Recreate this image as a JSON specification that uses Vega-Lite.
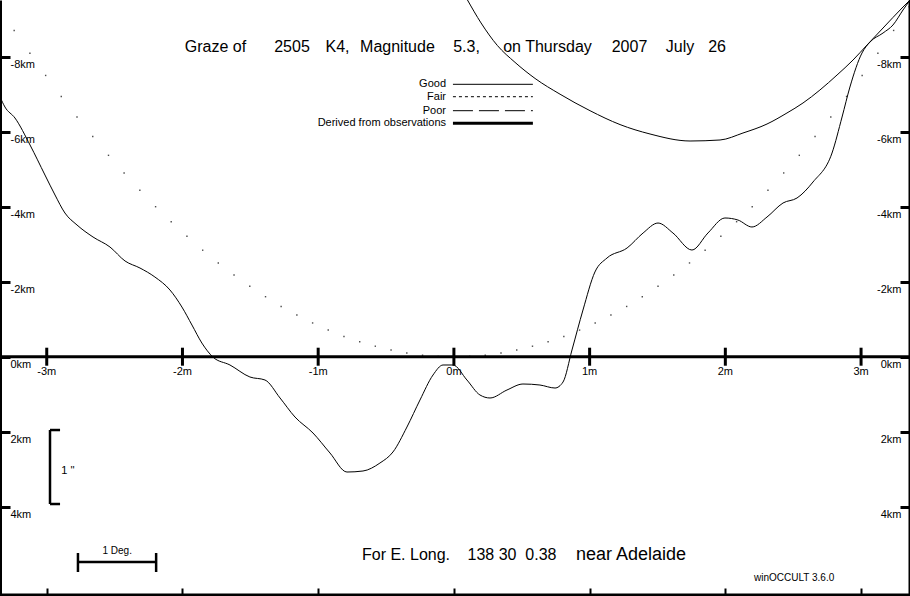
{
  "$schema": "https://vega.github.io/schema/vega-lite/v6.json",
  "width": 910,
  "height": 596,
  "autosize": {"type": "none"},
  "padding": 0,
  "background": "white",
  "config": {
    "view": {"stroke": null},
    "text": {"font": "Liberation Sans", "color": "black"},
    "axis": {"labelFont": "Liberation Sans", "grid": false, "title": null}
  },
  "datasets": {
    "profile": [
      {"m": -3.344, "km": -6.925}, {"m": -3.308, "km": -6.659}, {"m": -3.234, "km": -6.365},
      {"m": -3.123, "km": -5.645}, {"m": -3.013, "km": -4.845}, {"m": -2.939, "km": -4.312},
      {"m": -2.866, "km": -3.832}, {"m": -2.777, "km": -3.512}, {"m": -2.659, "km": -3.192},
      {"m": -2.534, "km": -2.925}, {"m": -2.423, "km": -2.552}, {"m": -2.313, "km": -2.365},
      {"m": -2.203, "km": -2.125}, {"m": -2.092, "km": -1.779}, {"m": -2.004, "km": -1.325},
      {"m": -1.930, "km": -0.845}, {"m": -1.857, "km": -0.365}, {"m": -1.776, "km": 0.008},
      {"m": -1.650, "km": 0.221}, {"m": -1.503, "km": 0.541}, {"m": -1.392, "km": 0.621},
      {"m": -1.281, "km": 1.101}, {"m": -1.171, "km": 1.608}, {"m": -1.038, "km": 2.035},
      {"m": -0.913, "km": 2.568}, {"m": -0.788, "km": 3.075}, {"m": -0.670, "km": 3.048},
      {"m": -0.545, "km": 2.835}, {"m": -0.449, "km": 2.541}, {"m": -0.346, "km": 1.875},
      {"m": -0.250, "km": 1.155}, {"m": -0.154, "km": 0.488}, {"m": -0.080, "km": 0.221},
      {"m": -0.007, "km": 0.221}, {"m": 0.096, "km": 0.621}, {"m": 0.192, "km": 1.021},
      {"m": 0.266, "km": 1.101}, {"m": 0.391, "km": 0.888}, {"m": 0.509, "km": 0.728},
      {"m": 0.634, "km": 0.755}, {"m": 0.745, "km": 0.835}, {"m": 0.804, "km": 0.675},
      {"m": 0.870, "km": -0.179}, {"m": 0.951, "km": -1.245}, {"m": 1.039, "km": -2.259},
      {"m": 1.128, "km": -2.632}, {"m": 1.276, "km": -2.899}, {"m": 1.394, "km": -3.299},
      {"m": 1.504, "km": -3.565}, {"m": 1.614, "km": -3.299}, {"m": 1.754, "km": -2.845},
      {"m": 1.872, "km": -3.299}, {"m": 1.997, "km": -3.699}, {"m": 2.093, "km": -3.645},
      {"m": 2.196, "km": -3.459}, {"m": 2.307, "km": -3.725}, {"m": 2.425, "km": -4.099},
      {"m": 2.528, "km": -4.232}, {"m": 2.646, "km": -4.659}, {"m": 2.786, "km": -5.432},
      {"m": 2.860, "km": -6.392}, {"m": 2.918, "km": -7.192}, {"m": 3.007, "km": -8.099},
      {"m": 3.066, "km": -8.392}, {"m": 3.162, "km": -8.632}, {"m": 3.235, "km": -8.845},
      {"m": 3.309, "km": -9.245}, {"m": 3.361, "km": -9.512}
    ],
    "upper": [
      {"m": 0.100, "km": -9.512}, {"m": 0.200, "km": -8.900}, {"m": 0.320, "km": -8.300},
      {"m": 0.450, "km": -7.850}, {"m": 0.598, "km": -7.420}, {"m": 0.782, "km": -7.000},
      {"m": 1.003, "km": -6.560}, {"m": 1.224, "km": -6.190}, {"m": 1.445, "km": -5.939},
      {"m": 1.740, "km": -5.752}, {"m": 1.961, "km": -5.779}, {"m": 2.130, "km": -5.965},
      {"m": 2.307, "km": -6.205}, {"m": 2.454, "km": -6.499}, {"m": 2.572, "km": -6.765},
      {"m": 2.697, "km": -7.112}, {"m": 2.823, "km": -7.512}, {"m": 2.941, "km": -7.912},
      {"m": 3.044, "km": -8.312}, {"m": 3.162, "km": -8.765}, {"m": 3.309, "km": -9.325},
      {"m": 3.361, "km": -9.512}
    ],
    "dots": [
      {"m": -3.240, "km": -8.70}, {"m": -3.124, "km": -8.09}, {"m": -3.008, "km": -7.50},
      {"m": -2.893, "km": -6.94}, {"m": -2.777, "km": -6.39}, {"m": -2.661, "km": -5.87},
      {"m": -2.545, "km": -5.37}, {"m": -2.430, "km": -4.90}, {"m": -2.314, "km": -4.44},
      {"m": -2.198, "km": -4.00}, {"m": -2.083, "km": -3.60}, {"m": -1.967, "km": -3.21},
      {"m": -1.851, "km": -2.84}, {"m": -1.736, "km": -2.50}, {"m": -1.620, "km": -2.18},
      {"m": -1.504, "km": -1.88}, {"m": -1.388, "km": -1.60}, {"m": -1.273, "km": -1.34},
      {"m": -1.157, "km": -1.11}, {"m": -1.041, "km": -0.90}, {"m": -0.926, "km": -0.71},
      {"m": -0.810, "km": -0.54}, {"m": -0.694, "km": -0.40}, {"m": -0.579, "km": -0.28},
      {"m": -0.463, "km": -0.18}, {"m": -0.347, "km": -0.10}, {"m": -0.231, "km": -0.04},
      {"m": -0.116, "km": -0.01}, {"m": 0.0, "km": 0.0},
      {"m": 0.116, "km": -0.01}, {"m": 0.231, "km": -0.04}, {"m": 0.347, "km": -0.10},
      {"m": 0.463, "km": -0.18}, {"m": 0.579, "km": -0.28}, {"m": 0.694, "km": -0.40},
      {"m": 0.810, "km": -0.54}, {"m": 0.926, "km": -0.71}, {"m": 1.041, "km": -0.90},
      {"m": 1.157, "km": -1.11}, {"m": 1.273, "km": -1.34}, {"m": 1.388, "km": -1.60},
      {"m": 1.504, "km": -1.88}, {"m": 1.620, "km": -2.18}, {"m": 1.736, "km": -2.50},
      {"m": 1.851, "km": -2.84}, {"m": 1.967, "km": -3.21}, {"m": 2.083, "km": -3.60},
      {"m": 2.198, "km": -4.00}, {"m": 2.314, "km": -4.44}, {"m": 2.430, "km": -4.90},
      {"m": 2.545, "km": -5.37}, {"m": 2.661, "km": -5.87}, {"m": 2.777, "km": -6.39},
      {"m": 2.893, "km": -6.94}, {"m": 3.008, "km": -7.50}, {"m": 3.124, "km": -8.09},
      {"m": 3.240, "km": -8.70}, {"m": 3.355, "km": -9.33}
    ],
    "minutes": [
      {"m": -3, "lab": "-3m"}, {"m": -2, "lab": "-2m"}, {"m": -1, "lab": "-1m"},
      {"m": 0, "lab": "0m"}, {"m": 1, "lab": "1m"}, {"m": 2, "lab": "2m"}, {"m": 3, "lab": "3m"}
    ],
    "title": [
      {"m": -1.757, "t": "Graze of"}, {"m": -1.193, "t": "2505"}, {"m": -0.858, "t": "K4,"},
      {"m": -0.416, "t": "Magnitude"}, {"m": 0.093, "t": "5.3,"}, {"m": 0.690, "t": "on Thursday"},
      {"m": 1.294, "t": "2007"}, {"m": 1.666, "t": "July"}, {"m": 1.939, "t": "26"}
    ],
    "legendtext": [
      {"km": -7.264, "t": "Good"}, {"km": -6.933, "t": "Fair"},
      {"km": -6.56, "t": "Poor"}, {"km": -6.224, "t": "Derived from observations"}
    ],
    "segments": [
      {"x": -2.976, "x2": -2.976, "y": 1.955, "y2": 3.928},
      {"x": -2.976, "x2": -2.902, "y": 1.955, "y2": 1.955},
      {"x": -2.976, "x2": -2.902, "y": 3.928, "y2": 3.928},
      {"x": -2.770, "x2": -2.194, "y": 5.475, "y2": 5.475},
      {"x": -2.770, "x2": -2.770, "y": 5.235, "y2": 5.741},
      {"x": -2.194, "x2": -2.194, "y": 5.235, "y2": 5.741}
    ]
  },
  "resolve": {"axis": {"x": "independent", "y": "independent"}},
  "layer": [
    {
      "data": {"name": "profile"},
      "mark": {"type": "line", "color": "black", "strokeWidth": 1, "interpolate": "monotone"},
      "encoding": {
        "x": {
          "field": "m", "type": "quantitative",
          "scale": {"domain": [-3.3444, 3.3606], "nice": false, "zero": false},
          "axis": {"orient": "bottom", "values": [-3, -2, -1, 0, 1, 2, 3], "tickSize": -8, "tickWidth": 2,
                   "tickColor": "black", "labels": false, "domain": true, "domainColor": "black",
                   "domainWidth": 6, "grid": false, "title": null}
        },
        "y": {
          "field": "km", "type": "quantitative",
          "scale": {"domain": [-9.512, 6.381], "reverse": true, "nice": false, "zero": false},
          "axis": {"orient": "left", "values": [-8, -6, -4, -2, 0, 2, 4], "labelExpr": "datum.value + 'km'",
                   "tickSize": -10, "tickWidth": 3, "tickColor": "black", "labelAlign": "left",
                   "labelBaseline": "top", "labelPadding": 0, "labelOffset": 2, "labelFontSize": 11,
                   "labelColor": "black", "domainColor": "black", "domainWidth": 3, "grid": false, "title": null}
        }
      }
    },
    {
      "data": {"name": "upper"},
      "mark": {"type": "line", "color": "black", "strokeWidth": 1, "interpolate": "monotone"},
      "encoding": {
        "x": {"field": "m", "type": "quantitative", "axis": null},
        "y": {
          "field": "km", "type": "quantitative",
          "axis": {"orient": "right", "values": [-8, -6, -4, -2, 0, 2, 4], "labelExpr": "datum.value + 'km'",
                   "tickSize": -10, "tickWidth": 3, "tickColor": "black", "labelAlign": "right",
                   "labelBaseline": "top", "labelPadding": 1, "labelOffset": 2, "labelFontSize": 11,
                   "labelColor": "black", "domainColor": "black", "domainWidth": 4, "grid": false, "title": null}
        }
      }
    },
    {
      "data": {"name": "dots"},
      "mark": {"type": "square", "color": "black", "size": 2, "filled": true},
      "encoding": {
        "x": {"field": "m", "type": "quantitative", "axis": null},
        "y": {"field": "km", "type": "quantitative", "axis": null}
      }
    },
    {
      "data": {"values": [{"km": 0}]},
      "mark": {"type": "rule", "color": "black", "strokeWidth": 3},
      "encoding": {"y": {"field": "km", "type": "quantitative", "axis": null}}
    },
    {
      "data": {"name": "minutes"},
      "mark": {"type": "rule", "color": "black", "strokeWidth": 3},
      "encoding": {
        "x": {"field": "m", "type": "quantitative", "axis": null},
        "y": {"datum": -0.24, "type": "quantitative", "axis": null},
        "y2": {"datum": 0.24}
      }
    },
    {
      "data": {"name": "minutes"},
      "mark": {"type": "text", "fontSize": 11, "align": "center", "baseline": "middle"},
      "encoding": {
        "x": {"field": "m", "type": "quantitative", "axis": null},
        "y": {"datum": 0.42, "type": "quantitative", "axis": null},
        "text": {"field": "lab"}
      }
    },
    {
      "data": {"name": "title"},
      "mark": {"type": "text", "fontSize": 16, "align": "center", "baseline": "middle"},
      "encoding": {
        "x": {"field": "m", "type": "quantitative", "axis": null},
        "y": {"datum": -8.26, "type": "quantitative", "axis": null},
        "text": {"field": "t"}
      }
    },
    {
      "data": {"name": "legendtext"},
      "mark": {"type": "text", "fontSize": 11, "align": "right", "baseline": "middle"},
      "encoding": {
        "x": {"datum": -0.058, "type": "quantitative", "axis": null},
        "y": {"field": "km", "type": "quantitative", "axis": null},
        "text": {"field": "t"}
      }
    },
    {
      "data": {"values": [{"a": -0.007, "b": 0.582, "km": -7.264}]},
      "mark": {"type": "rule", "color": "black", "strokeWidth": 1},
      "encoding": {
        "x": {"field": "a", "type": "quantitative", "axis": null}, "x2": {"field": "b"},
        "y": {"field": "km", "type": "quantitative", "axis": null}
      }
    },
    {
      "data": {"values": [{"a": -0.007, "b": 0.582, "km": -6.933}]},
      "mark": {"type": "rule", "color": "black", "strokeWidth": 1, "strokeDash": [3, 3]},
      "encoding": {
        "x": {"field": "a", "type": "quantitative", "axis": null}, "x2": {"field": "b"},
        "y": {"field": "km", "type": "quantitative", "axis": null}
      }
    },
    {
      "data": {"values": [{"a": -0.007, "b": 0.582, "km": -6.56}]},
      "mark": {"type": "rule", "color": "black", "strokeWidth": 1, "strokeDash": [20, 6]},
      "encoding": {
        "x": {"field": "a", "type": "quantitative", "axis": null}, "x2": {"field": "b"},
        "y": {"field": "km", "type": "quantitative", "axis": null}
      }
    },
    {
      "data": {"values": [{"a": -0.007, "b": 0.582, "km": -6.224}]},
      "mark": {"type": "rule", "color": "black", "strokeWidth": 3},
      "encoding": {
        "x": {"field": "a", "type": "quantitative", "axis": null}, "x2": {"field": "b"},
        "y": {"field": "km", "type": "quantitative", "axis": null}
      }
    },
    {
      "data": {"name": "segments"},
      "mark": {"type": "rule", "color": "black", "strokeWidth": 2.5},
      "encoding": {
        "x": {"field": "x", "type": "quantitative", "axis": null}, "x2": {"field": "x2"},
        "y": {"field": "y", "type": "quantitative", "axis": null}, "y2": {"field": "y2"}
      }
    },
    {
      "data": {"values": [{"m": -2.90, "km": 3.045, "t": "1 ''"}]},
      "mark": {"type": "text", "fontSize": 11, "align": "left", "baseline": "middle", "dx": 1},
      "encoding": {
        "x": {"field": "m", "type": "quantitative", "axis": null},
        "y": {"field": "km", "type": "quantitative", "axis": null},
        "text": {"field": "t"}
      }
    },
    {
      "data": {"values": [{"m": -2.481, "km": 5.181, "t": "1 Deg."}]},
      "mark": {"type": "text", "fontSize": 10, "align": "center", "baseline": "middle"},
      "encoding": {
        "x": {"field": "m", "type": "quantitative", "axis": null},
        "y": {"field": "km", "type": "quantitative", "axis": null},
        "text": {"field": "t"}
      }
    },
    {
      "data": {"values": [
        {"m": -0.353, "t": "For E. Long."},
        {"m": 0.428, "t": "138 30\u00a0\u00a00.38"}
      ]},
      "mark": {"type": "text", "fontSize": 16, "align": "center", "baseline": "middle"},
      "encoding": {
        "x": {"field": "m", "type": "quantitative", "axis": null},
        "y": {"datum": 5.288, "type": "quantitative", "axis": null},
        "text": {"field": "t"}
      }
    },
    {
      "data": {"values": [{"m": 1.305, "t": "near Adelaide"}]},
      "mark": {"type": "text", "fontSize": 18, "align": "center", "baseline": "middle"},
      "encoding": {
        "x": {"field": "m", "type": "quantitative", "axis": null},
        "y": {"datum": 5.288, "type": "quantitative", "axis": null},
        "text": {"field": "t"}
      }
    },
    {
      "data": {"values": [{"m": 2.507, "t": "winOCCULT 3.6.0"}]},
      "mark": {"type": "text", "fontSize": 10, "align": "center", "baseline": "middle"},
      "encoding": {
        "x": {"field": "m", "type": "quantitative", "axis": null},
        "y": {"datum": 5.901, "type": "quantitative", "axis": null},
        "text": {"field": "t"}
      }
    }
  ]
}
